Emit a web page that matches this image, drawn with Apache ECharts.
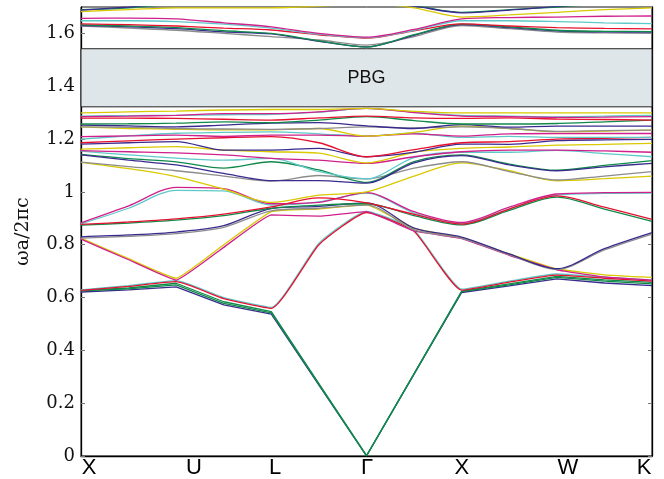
<!DOCTYPE html>
<html><head><meta charset="utf-8">
<script src="https://cdn.jsdelivr.net/npm/echarts@6/dist/echarts.min.js"></script>
<style>html,body{margin:0;padding:0;background:#fff}#c{width:664px;height:479px}</style>
</head><body><div id="c"></div>
<script>
// k-path sample positions (X=0, U=1, L=2, Γ=3, X=4, W=5, K=6)
const kGrid = [0,0.5,1,1.5,2,2.5,3,3.5,4,4.5,5,5.5,6];
const xLabels = ['X','U','L','Γ','X','W','K'];
const xLabelPos = [0.084,1.187,2.04,3.005,4.003,5.117,5.916];
const pbgRange = [1.322, 1.542];

// lower bands
const A1 = [0.625,0.633,0.648,0.578,0.542,0.271,0,0.311,0.622,0.648,0.676,0.662,0.652];
const A2 = [0.621,0.629,0.640,0.572,0.537,0.268,0,0.310,0.619,0.644,0.671,0.655,0.645];
const A3 = [0.627,0.636,0.654,0.584,0.547,0.274,0.002,0.312,0.624,0.652,0.680,0.667,0.657];
const C1 = [0.629,0.645,0.664,0.600,0.563,0.806,0.926,0.856,0.632,0.662,0.689,0.677,0.665];
const C2 = [0.627,0.642,0.660,0.596,0.559,0.800,0.922,0.851,0.628,0.658,0.685,0.673,0.662];
const E1 = [0.825,0.747,0.673,0.800,0.925,0.935,0.952,0.862,0.826,0.765,0.708,0.686,0.676];
const E2 = [0.821,0.743,0.666,0.790,0.913,0.908,0.925,0.852,0.823,0.760,0.705,0.678,0.666];
const F1 = [0.830,0.837,0.848,0.872,0.937,0.945,0.958,0.863,0.829,0.765,0.709,0.785,0.846];
const F2 = [0.825,0.832,0.842,0.866,0.928,0.938,0.950,0.856,0.824,0.762,0.706,0.780,0.840];
const G1 = [0.883,0.947,1.017,1.012,0.955,0.960,0.997,0.925,0.884,0.942,0.992,0.997,0.998];
const G2 = [0.879,0.938,1.006,1.004,0.950,0.962,0.995,0.920,0.880,0.936,0.988,0.994,0.995];
const J1 = [0.877,0.886,0.898,0.916,0.943,0.977,0.958,0.915,0.878,0.935,0.985,0.942,0.896];
const J2 = [0.874,0.882,0.893,0.910,0.938,0.950,0.955,0.910,0.875,0.930,0.980,0.935,0.888];
// dense bands below the gap
const H1 = [1.112,1.088,1.058,1.010,0.960,0.988,1.000,1.060,1.110,1.080,1.042,1.050,1.060];
const H2 = [1.113,1.096,1.080,1.060,1.041,1.062,1.049,1.090,1.114,1.077,1.045,1.060,1.077];
const U2a = [1.140,1.120,1.102,1.070,1.043,1.043,1.033,1.110,1.137,1.102,1.080,1.095,1.108];
const U2b = [1.142,1.126,1.114,1.090,1.114,1.083,1.036,1.115,1.140,1.105,1.082,1.100,1.118];
const U3a = [1.156,1.152,1.148,1.140,1.127,1.120,1.108,1.133,1.152,1.158,1.158,1.155,1.150];
const U3b = [1.154,1.140,1.128,1.120,1.127,1.077,1.049,1.130,1.150,1.150,1.157,1.145,1.133];
const U4 = [1.162,1.167,1.171,1.158,1.152,1.147,1.110,1.150,1.165,1.170,1.177,1.180,1.184];
const U5 = [1.181,1.186,1.190,1.158,1.158,1.165,1.133,1.150,1.181,1.180,1.194,1.197,1.199];
const U6 = [1.186,1.193,1.200,1.205,1.209,1.186,1.133,1.160,1.186,1.190,1.200,1.203,1.206];
const U7 = [1.200,1.212,1.222,1.225,1.227,1.220,1.211,1.222,1.206,1.210,1.206,1.206,1.206];
const U8 = [1.209,1.212,1.215,1.210,1.215,1.215,1.211,1.220,1.211,1.220,1.221,1.221,1.221];
const U9a = [1.246,1.240,1.237,1.235,1.235,1.240,1.211,1.225,1.249,1.240,1.228,1.230,1.234];
const U9b = [1.246,1.244,1.240,1.238,1.237,1.240,1.246,1.242,1.246,1.240,1.229,1.232,1.234];
const U10 = [1.253,1.250,1.246,1.253,1.260,1.262,1.250,1.240,1.255,1.245,1.249,1.249,1.249];
const U11 = [1.257,1.258,1.260,1.265,1.262,1.272,1.285,1.270,1.257,1.257,1.259,1.265,1.272];
const U12 = [1.279,1.279,1.278,1.275,1.272,1.280,1.287,1.280,1.278,1.280,1.276,1.274,1.272];
const U13a = [1.287,1.289,1.290,1.292,1.294,1.302,1.316,1.302,1.290,1.287,1.284,1.287,1.290];
const U13b = [1.285,1.287,1.290,1.296,1.296,1.303,1.316,1.300,1.287,1.285,1.282,1.283,1.285];
const U14 = [1.299,1.303,1.306,1.310,1.312,1.312,1.316,1.305,1.299,1.299,1.299,1.299,1.299];
// bands above the gap
const T1 = [1.657,1.658,1.655,1.640,1.625,1.600,1.586,1.615,1.655,1.660,1.662,1.665,1.666];
const T2 = [1.648,1.648,1.645,1.635,1.620,1.597,1.584,1.612,1.648,1.648,1.645,1.640,1.637];
const T3 = [1.636,1.633,1.628,1.620,1.613,1.595,1.582,1.610,1.636,1.628,1.622,1.619,1.617];
const T4 = [1.632,1.628,1.622,1.610,1.600,1.572,1.548,1.595,1.635,1.625,1.612,1.608,1.607];
const T5 = [1.630,1.625,1.618,1.606,1.598,1.570,1.549,1.593,1.633,1.622,1.610,1.606,1.605];
const T6 = [1.628,1.620,1.612,1.600,1.588,1.575,1.556,1.588,1.630,1.618,1.605,1.602,1.600];
const T7 = [1.683,1.690,1.697,1.697,1.697,1.703,1.712,1.697,1.662,1.670,1.680,1.690,1.697];
const T8 = [1.690,1.697,1.712,1.720,1.720,1.720,1.720,1.705,1.680,1.690,1.700,1.712,1.720];
const T9 = [1.688,1.700,1.715,1.720,1.720,1.720,1.720,1.703,1.678,1.688,1.702,1.715,1.720];

const Y='#d9c900', C='#5fc9c9', M='#d0208c', R='#e6112f', G='#108a4a', N='#3a2b8e', Gy='#8c8c8c';

const bands = [
  [A2,N,false],[A3,G,false],[A1,G,false],
  [C1,C,0.15],[C2,R,0.15],
  [E1,Y,0.1],[E2,M,0.1],[F2,Gy,0.3],[F1,N,0.3],
  [G2,C,0.3],[G1,M,0.3],[J2,G,0.3],[J1,R,0.3],
  [H1,Y,0.3],[H2,Gy,0.3],[U2b,G,0.3],[U2a,N,0.3],[U3b,C,0.3],[U3a,M,0.3],
  [U4,Y,0.3],[U5,N,0.3],[U6,R,0.3],[U7,C,0.3],[U8,M,0.3],[U9a,Y,0.3],[U9b,Gy,0.3],
  [U10,N,0.3],[U11,G,0.3],[U12,R,0.3],[U13a,C,0.3],[U13b,M,0.3],[U14,Y,0.3],
  [T6,Gy,0.3],[T5,N,0.3],[T4,G,0.3],[T3,R,0.3],[T2,C,0.3],[T1,M,0.3],[T7,Y,0.3],[T8,G,0.3],[T9,N,0.3]
];

const series = bands.map(([vals,color,sm]) => ({
  type:'line', data:kGrid.map((k,i)=>[k,vals[i]]), symbol:'none', smooth:sm,
  lineStyle:{color:color,width:1.3}, silent:true, z:3
}));
series.push({
  type:'line', data:[], silent:true, z:1,
  markArea:{silent:true,
    itemStyle:{color:'#dfe6e9',borderColor:'#222',borderWidth:1},
    label:{show:true,position:'inside',formatter:'PBG',fontFamily:'Liberation Sans',fontSize:18,color:'#111'},
    data:[[{xAxis:0,yAxis:pbgRange[0]},{xAxis:6,yAxis:pbgRange[1]}]]}
});

const chart = echarts.init(document.getElementById('c'));
chart.setOption({
  animation:false,
  backgroundColor:'#fff',
  grid:{left:81,right:12,top:7,bottom:23,show:true,borderColor:'#111',borderWidth:1,backgroundColor:'transparent'},
  xAxis:{type:'value',min:0,max:6,
    axisLine:{show:true,onZero:false,lineStyle:{color:'#000',width:1.3}},
    axisTick:{show:false},splitLine:{show:false},
    axisLabel:{customValues:xLabelPos,
      formatter:(v)=>{let b=0;for(let i=1;i<xLabelPos.length;i++){if(Math.abs(xLabelPos[i]-v)<Math.abs(xLabelPos[b]-v))b=i;}return xLabels[b];},
      fontFamily:'Liberation Sans',fontSize:22,color:'#000',margin:1}},
  yAxis:[{type:'value',min:0,max:1.7,interval:0.2,
    axisLine:{show:true,lineStyle:{color:'#000',width:1.3}},
    axisTick:{show:true,inside:true,length:4,lineStyle:{color:'#777'}},
    splitLine:{show:false},
    axisLabel:{fontFamily:'DejaVu Serif',fontSize:18,color:'#111',margin:6,showMaxLabel:false,padding:[4,0,0,0]},
    name:'ωa/2πc',nameLocation:'middle',nameGap:48,nameMoveOverlap:false,
    nameTextStyle:{fontFamily:'DejaVu Serif',fontSize:19,color:'#111'}},
   {type:'value',position:'right',min:0,max:1.7,interval:0.2,
    axisLine:{show:true,lineStyle:{color:'#000',width:1.3}},
    axisTick:{show:true,inside:true,length:4,lineStyle:{color:'#777'}},
    axisLabel:{show:false},splitLine:{show:false}}],
  series:series
});
</script></body></html>
